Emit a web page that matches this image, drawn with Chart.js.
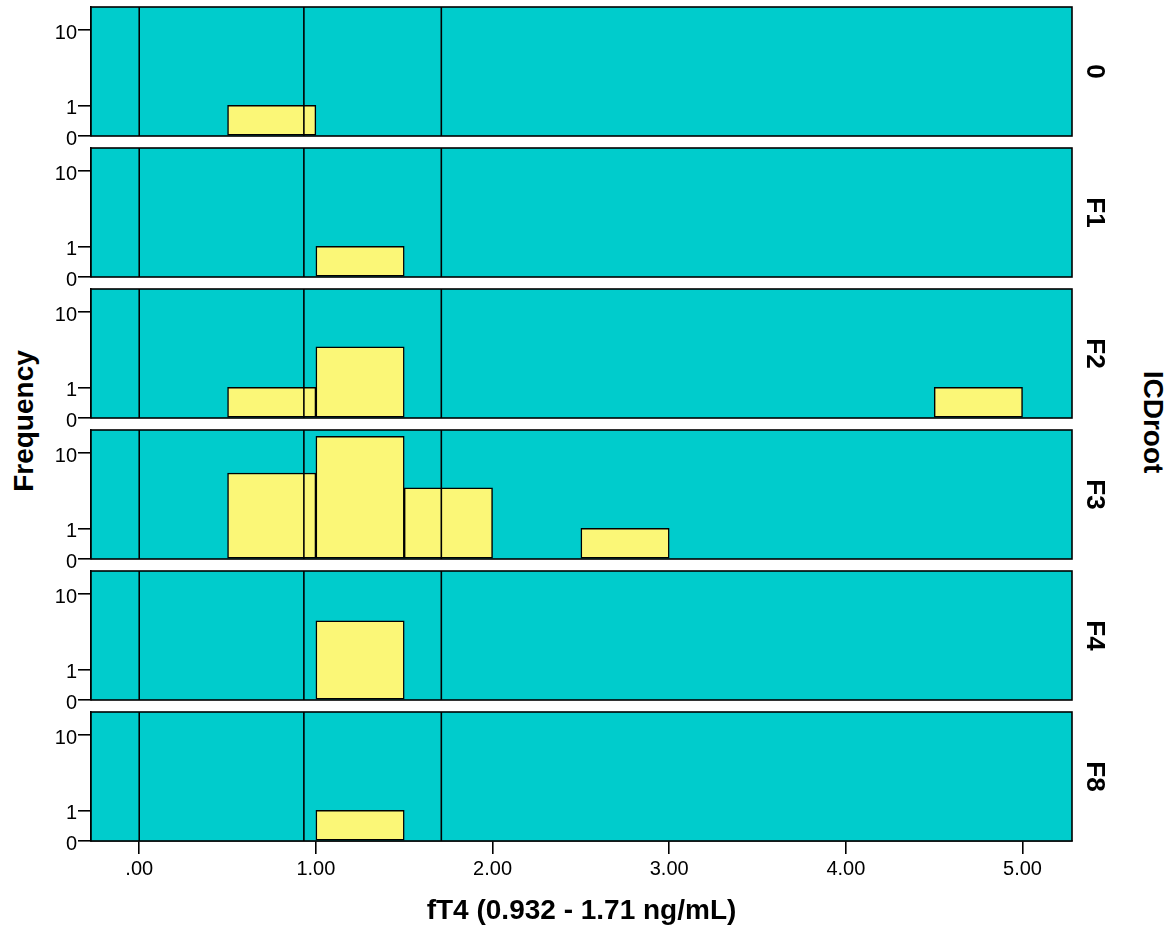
<!DOCTYPE html>
<html>
<head>
<meta charset="utf-8">
<script src="https://cdn.jsdelivr.net/npm/chart.js@4/dist/chart.umd.min.js"></script>
<style>
  body { margin: 0; background: #fff; }
  #page { position: relative; width: 1172px; height: 930px; overflow: hidden; font-family: 'Liberation Sans', Arial, sans-serif; }
  .panel { position: absolute; left: 0; width: 1172px; }
  .vlabel { position: absolute; white-space: nowrap; font-weight: bold; font-size: 28px; line-height: 1; color: #000; }
</style>
</head>
<body>
<div id="page">
  <div class="vlabel" id="freq" style="left:24px; top:421px; transform: translate(-50%,-50%) rotate(-90deg);">Frequency</div>
  <div class="vlabel" id="icd" style="left:1153px; top:422px; transform: translate(-50%,-50%) rotate(90deg);">ICDroot</div>
</div>
<script>
// histogram bins (width .5)
const binStarts = [0.5, 1.0, 1.5, 2.0, 2.5, 3.0, 3.5, 4.0, 4.5];
const binWidth = 0.5;
const groups = ['0', 'F1', 'F2', 'F3', 'F4', 'F8'];

const counts0  = [1, 0, 0, 0, 0, 0, 0, 0, 0];
const countsF1 = [0, 1, 0, 0, 0, 0, 0, 0, 0];
const countsF2 = [1, 4, 0, 0, 0, 0, 0, 0, 1];
const countsF3 = [6, 15, 4, 0, 1, 0, 0, 0, 0];
const countsF4 = [0, 5, 0, 0, 0, 0, 0, 0, 0];
const countsF8 = [0, 1, 0, 0, 0, 0, 0, 0, 0];
const allCounts = [counts0, countsF1, countsF2, countsF3, countsF4, countsF8];

// reference range lines
const refLines = [0, 0.932, 1.71];

const xTicks = [0, 1, 2, 3, 4, 5];
const xTickLabels = ['.00', '1.00', '2.00', '3.00', '4.00', '5.00'];
const yTicks = [0, 1, 10];
const yMaxCount = 17.5;

const cyan = '#00CCCC';
const yellow = '#FBF777';
const fontFam = "'Liberation Sans', Arial, sans-serif";

// log(1+n) frequency axis
const tr = v => Math.log10(v + 1);

const panelTops = [7, 148, 289, 430, 571, 712];
const panelH = 129;
const pad = 20;
const xAxisH = 89;

const panelPlugin = {
  id: 'panelDeco',
  beforeDatasetsDraw(chart) {
    const { ctx, chartArea: a } = chart;
    ctx.save();
    ctx.fillStyle = cyan;
    ctx.fillRect(a.left, a.top, a.right - a.left, a.bottom - a.top);
    ctx.restore();
  },
  afterDatasetsDraw(chart, args, opts) {
    const { ctx, chartArea: a, scales } = chart;
    ctx.save();
    ctx.strokeStyle = '#000';
    ctx.lineWidth = 1.6;
    refLines.forEach(v => {
      const px = scales.x.getPixelForValue(v);
      ctx.beginPath();
      ctx.moveTo(px, a.top);
      ctx.lineTo(px, a.bottom);
      ctx.stroke();
    });
    ctx.strokeRect(a.left, a.top, a.right - a.left, a.bottom - a.top);
    // group label on the right
    ctx.fillStyle = '#000';
    ctx.font = 'bold 26px ' + fontFam;
    ctx.translate(1087, (a.top + a.bottom) / 2);
    ctx.rotate(Math.PI / 2);
    ctx.textAlign = 'center';
    ctx.textBaseline = 'alphabetic';
    ctx.fillText(opts.label, 0, 0);
    ctx.restore();
  }
};

const page = document.getElementById('page');

groups.forEach((g, gi) => {
  const last = gi === groups.length - 1;
  const top = panelTops[gi] - pad;
  const height = last ? 930 - top : panelH + 2 * pad;
  const wrap = document.createElement('div');
  wrap.className = 'panel';
  wrap.style.top = top + 'px';
  wrap.style.height = height + 'px';
  const cv = document.createElement('canvas');
  wrap.appendChild(cv);
  page.appendChild(wrap);

  const data = binStarts.map((s, i) => ({
    x: s + binWidth / 2,
    y: allCounts[gi][i] ? tr(allCounts[gi][i]) : null
  }));

  new Chart(cv, {
    type: 'bar',
    data: {
      datasets: [{
        data: data,
        backgroundColor: yellow,
        borderColor: '#000',
        borderWidth: 1.5,
        borderSkipped: false,
        barPercentage: 1,
        categoryPercentage: 1
      }]
    },
    plugins: [panelPlugin],
    options: {
      responsive: true,
      maintainAspectRatio: false,
      animation: false,
      layout: { padding: { top: pad, bottom: last ? 0 : pad, left: 0, right: 100 } },
      plugins: {
        legend: { display: false },
        tooltip: { enabled: false },
        panelDeco: { label: g }
      },
      scales: {
        x: {
          type: 'linear',
          display: last,
          min: -0.273,
          max: 5.28,
          offset: false,
          afterBuildTicks: s => { s.ticks = xTicks.map(v => ({ value: v })); },
          afterFit: s => { if (last) s.height = xAxisH; },
          ticks: {
            color: '#000',
            font: { family: fontFam, size: 20 },
            padding: 3,
            maxRotation: 0,
            autoSkip: false,
            callback: (v, i) => xTickLabels[i]
          },
          grid: { offset: false, drawOnChartArea: false, drawTicks: true, tickLength: 13, color: '#000', lineWidth: 1.6 },
          border: { display: true, color: '#000', width: 1.6 },
          title: {
            display: true,
            text: 'fT4 (0.932 - 1.71 ng/mL)',
            color: '#000',
            font: { family: fontFam, size: 28, weight: 'bold' },
            padding: { top: 0, bottom: 2 }
          }
        },
        y: {
          type: 'linear',
          min: 0,
          max: tr(yMaxCount),
          afterBuildTicks: s => { s.ticks = yTicks.map(v => ({ value: tr(v) })); },
          afterFit: s => { s.width = 91; },
          ticks: {
            color: '#000',
            font: { family: fontFam, size: 20 },
            padding: 1,
            labelOffset: 3,
            autoSkip: false,
            callback: (v, i) => String(yTicks[i])
          },
          grid: { drawOnChartArea: false, drawTicks: true, tickLength: 13, color: '#000', lineWidth: 1.6 },
          border: { display: true, color: '#000', width: 1.6 }
        }
      }
    }
  });
});
</script>
</body>
</html>
